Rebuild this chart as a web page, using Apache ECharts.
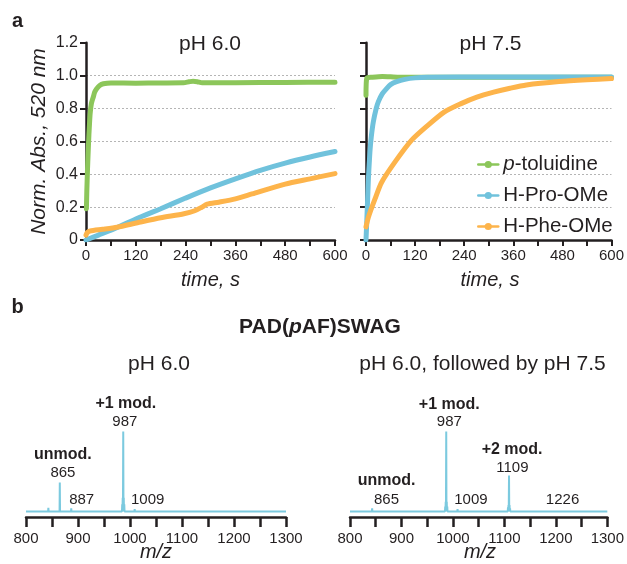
<!DOCTYPE html>
<html><head><meta charset="utf-8">
<script src="https://cdn.jsdelivr.net/npm/echarts@6/dist/echarts.min.js"></script>
<style>html,body{margin:0;padding:0;background:#fff}#c{width:627px;height:564px}</style>
</head><body><div id="c"></div>
<script>
// ---------- DATA ----------
const seriesNames = ['p-toluidine', 'H-Pro-OMe', 'H-Phe-OMe'];
const timeTickLabels = [0, 120, 240, 360, 480, 600];
const absTickLabels = [0, 0.2, 0.4, 0.6, 0.8, 1.0, 1.2];
const mzTickLabels = [800, 900, 1000, 1100, 1200, 1300];

// pH 6.0 kinetics [time s, normalized abs]
const tolPH60 = [[1,0.19],[2,0.3],[3.5,0.42],[5,0.52],[7,0.64],[8.5,0.71],[10,0.77],[13,0.83],[17.6,0.87],[21,0.9],[25.7,0.92],[33,0.94],[42,0.95],[60,0.955],[120,0.954],[180,0.955],[235,0.956],[248,0.962],[258,0.966],[268,0.963],[280,0.956],[360,0.957],[480,0.958],[600,0.96]];
const proPH60 = [[0,0],[30,0.03],[60,0.06],[120,0.128],[180,0.19],[240,0.255],[300,0.317],[360,0.372],[420,0.424],[480,0.468],[540,0.505],[600,0.538]];
const phePH60 = [[0,0.03],[3,0.045],[10,0.055],[40,0.065],[75,0.078],[124,0.105],[180,0.135],[236,0.16],[262,0.178],[278,0.198],[292,0.218],[320,0.23],[360,0.25],[400,0.28],[480,0.34],[540,0.372],[600,0.404]];
// pH 7.5 kinetics
const tolPH75 = [[0,0.88],[2,0.985],[15,0.99],[40,0.995],[80,0.99],[150,0.99],[300,0.99],[450,0.99],[600,0.99]];
const proPH75 = [[0,0],[2,0.12],[4,0.25],[6,0.38],[8,0.47],[10,0.55],[13,0.63],[18,0.72],[25,0.8],[30,0.84],[40,0.89],[50,0.92],[60,0.945],[75,0.963],[95,0.977],[120,0.986],[150,0.99],[300,0.992],[600,0.992]];
const phePH75 = [[0,0.08],[6,0.14],[22,0.25],[38,0.35],[71,0.475],[111,0.606],[151,0.697],[191,0.778],[231,0.828],[271,0.869],[312,0.899],[352,0.923],[392,0.943],[472,0.964],[540,0.975],[600,0.982]];

// MS peaks [m/z, relative intensity]
const specPH60 = [[812,1.5],[822,1.5],[843,4.5],[865,36],[887,4],[905,1],[921,1],[985,9],[986,17],[987,100],[988,17],[989,9],[1009,3],[1013,1.5],[1032,1],[1074,1.2],[1194,1.5]];
const specPH75 = [[810,1.2],[818,1.5],[826,1],[843,4],[852,1],[866,2.5],[878,1],[890,1.2],[906,2.5],[920,1],[938,1.2],[950,1],[964,2],[975,1.2],[985,6],[986,12],[987,100],[988,12],[989,6],[1009,3],[1022,1],[1040,1.2],[1060,1],[1080,1.2],[1095,1],[1107,5],[1108,8],[1109,45],[1110,8],[1111,4],[1131,2.5],[1140,1],[1160,1],[1180,1.2],[1200,1],[1215,1],[1226,2.5],[1240,1],[1255,1.2],[1270,1]];

// peak annotations: text, bold, anchor [m/z, intensity]
const annTextPH60 = ['+1 mod.', '987', 'unmod.', '865', '887', '1009'];
const annBoldPH60 = [true, false, true, false, false, false];
const annAnchorPH60 = [[992,135],[990,112],[871,70.5],[871,48.4],[907,14.3],[1034,14.3]];
const annTextPH75 = ['+1 mod.', '987', '+2 mod.', '1109', 'unmod.', '865', '1009', '1226'];
const annBoldPH75 = [true, false, true, false, true, false, false, false];
const annAnchorPH75 = [[993,133],[993,112],[1115,76.8],[1115.6,55],[871,38],[871,15],[1035,15],[1213,15]];

// ---------- CHART ----------
const FONT = '"Liberation Sans", Arial, Helvetica, sans-serif';
const DARK = '#231f20';
const COLORS = ['#8cc65a', '#70c2dc', '#fdb44b'];
const SPEC = '#7ccadf';

const chart = echarts.init(document.getElementById('c'), null, {renderer: 'canvas'});

function peaksToLine(peaks) {
  const s = peaks.slice().sort((a, b) => a[0] - b[0]);
  const pts = [[800, 0]];
  s.forEach(([m, h]) => { pts.push([m - 0.45, 0], [m, h], [m + 0.45, 0]); });
  pts.push([1300, 0]);
  return pts;
}

function timeAxis(gi) {
  return {type: 'value', gridIndex: gi, min: 0, max: 600, interval: 60,
    axisLine: {onZero: false, lineStyle: {color: DARK, width: 2.5}},
    axisTick: {length: 6, lineStyle: {color: DARK, width: 2}},
    axisLabel: {margin: 8, fontSize: 15, color: DARK, fontFamily: FONT,
      formatter: v => timeTickLabels.includes(v) ? String(v) : ''},
    splitLine: {show: false}};
}
function absAxis(gi, showLabels) {
  return {type: 'value', gridIndex: gi, min: 0, max: 1.2, interval: 0.2,
    axisLine: {show: true, onZero: false, lineStyle: {color: DARK, width: 2.5}},
    axisTick: {show: true, length: 6, lineStyle: {color: DARK, width: 2}},
    axisLabel: {show: showLabels, margin: 8, fontSize: 16, color: DARK, fontFamily: FONT,
      formatter: v => { const t = absTickLabels.find(a => Math.abs(a - v) < 1e-6); return t === 0 ? '0' : (t !== undefined ? t.toFixed(1) : ''); }},
    splitLine: {show: true, showMinLine: false, showMaxLine: false, lineStyle: {color: '#b5b5b5', width: 1, type: [2, 2]}}};
}
function mzAxis(gi) {
  return {type: 'value', gridIndex: gi, min: 800, max: 1300, interval: 50,
    axisLine: {onZero: false, lineStyle: {color: DARK, width: 2.5}},
    axisTick: {length: 10, lineStyle: {color: DARK, width: 2.5}},
    axisLabel: {margin: 14, fontSize: 15, color: DARK, fontFamily: FONT,
      formatter: v => mzTickLabels.includes(v) ? String(v) : ''},
    splitLine: {show: false}};
}
function intAxis(gi) {
  return {type: 'value', gridIndex: gi, min: -7, max: 100, show: false, splitLine: {show: false}};
}
function kin(name, data, ci, gi) {
  return {type: 'line', name: name, data: data, xAxisIndex: gi, yAxisIndex: gi,
    showSymbol: false, symbol: 'circle', symbolSize: 8, smooth: 0.25,
    lineStyle: {width: 5, color: COLORS[ci], cap: 'round'}, itemStyle: {color: COLORS[ci]},
    emphasis: {disabled: true}, animation: false};
}
function spec(data, gi) {
  return {type: 'line', data: peaksToLine(data), xAxisIndex: gi, yAxisIndex: gi,
    showSymbol: false, lineStyle: {width: 2, color: SPEC}, itemStyle: {color: SPEC},
    emphasis: {disabled: true}, animation: false};
}

const option = {
  animation: false,
  backgroundColor: '#fff',
  textStyle: {fontFamily: FONT},
  grid: [
    {left: 86, top: 42.7, width: 249, height: 197.3},
    {left: 366, top: 42.7, width: 248, height: 197.3},
    {left: 26, top: 431.4, width: 260, height: 85.6},
    {left: 350, top: 431.4, width: 259.3, height: 85.6}
  ],
  xAxis: [timeAxis(0), timeAxis(1), mzAxis(2), mzAxis(3)],
  yAxis: [absAxis(0, true), absAxis(1, false), intAxis(2), intAxis(3)],
  legend: {
    orient: 'vertical', left: 472, top: 149, itemWidth: 20, itemHeight: 9, itemGap: 10,
    lineStyle: {width: 2.5}, selectedMode: false,
    data: seriesNames,
    formatter: n => n === 'p-toluidine' ? '{i|p}-toluidine' : n,
    textStyle: {fontSize: 20.5, color: DARK, fontFamily: FONT,
      rich: {i: {fontStyle: 'italic', fontSize: 20.5, color: DARK, fontFamily: FONT}}}
  },
  series: [
    kin(seriesNames[0], tolPH60, 0, 0), kin(seriesNames[1], proPH60, 1, 0), kin(seriesNames[2], phePH60, 2, 0),
    kin(seriesNames[0], tolPH75, 0, 1), kin(seriesNames[1], proPH75, 1, 1), kin(seriesNames[2], phePH75, 2, 1),
    spec(specPH60, 2), spec(specPH75, 3)
  ]
};
chart.setOption(option);

function txt(x, y, text, size, opts) {
  return Object.assign({type: 'text', silent: true, x: x, y: y,
    style: Object.assign({text: text, fill: DARK, font: (opts && opts.weight ? opts.weight + ' ' : '') + (opts && opts.italic ? 'italic ' : '') + size + 'px ' + FONT,
      textAlign: 'center', textVerticalAlign: 'middle'}, (opts && opts.style) || {})}, (opts && opts.el) || {});
}
const g = [];
g.push(txt(17.5, 21.5, 'a', 20, {weight: 'bold'}));
g.push(txt(17.5, 307, 'b', 20, {weight: 'bold'}));
g.push(txt(210, 44, 'pH 6.0', 21));
g.push(txt(490.5, 44, 'pH 7.5', 21));
g.push({type: 'text', silent: true, x: 39.5, y: 141.5, rotation: Math.PI / 2,
  style: {text: 'Norm. Abs., 520 nm', fill: DARK, font: 'italic 21px ' + FONT, textAlign: 'center', textVerticalAlign: 'middle'}});
g.push(txt(210.5, 280, 'time, s', 20, {italic: true}));
g.push(txt(490, 280, 'time, s', 20, {italic: true}));
g.push({type: 'text', silent: true, x: 320, y: 327,
  style: {text: '{b|PAD(}{bi|p}{b|AF)SWAG}', textAlign: 'center', textVerticalAlign: 'middle',
    rich: {b: {fontWeight: 'bold', fontSize: 21, fontFamily: FONT, fill: DARK, color: DARK},
           bi: {fontWeight: 'bold', fontStyle: 'italic', fontSize: 21, fontFamily: FONT, fill: DARK, color: DARK}}}});
g.push(txt(159, 364, 'pH 6.0', 21));
g.push(txt(482.5, 364, 'pH 6.0, followed by pH 7.5', 21));
g.push(txt(156, 552, 'm/z', 20, {italic: true}));
g.push(txt(480, 552, 'm/z', 20, {italic: true}));

function addAnn(texts, bolds, anchors, gi) {
  texts.forEach((t, i) => {
    const p = chart.convertToPixel({gridIndex: gi}, anchors[i]);
    g.push(txt(p[0], p[1], t, bolds[i] ? 16 : 15, bolds[i] ? {weight: 'bold'} : {}));
  });
}
addAnn(annTextPH60, annBoldPH60, annAnchorPH60, 2);
addAnn(annTextPH75, annBoldPH75, annAnchorPH75, 3);

chart.setOption({graphic: g});
</script>
</body></html>
